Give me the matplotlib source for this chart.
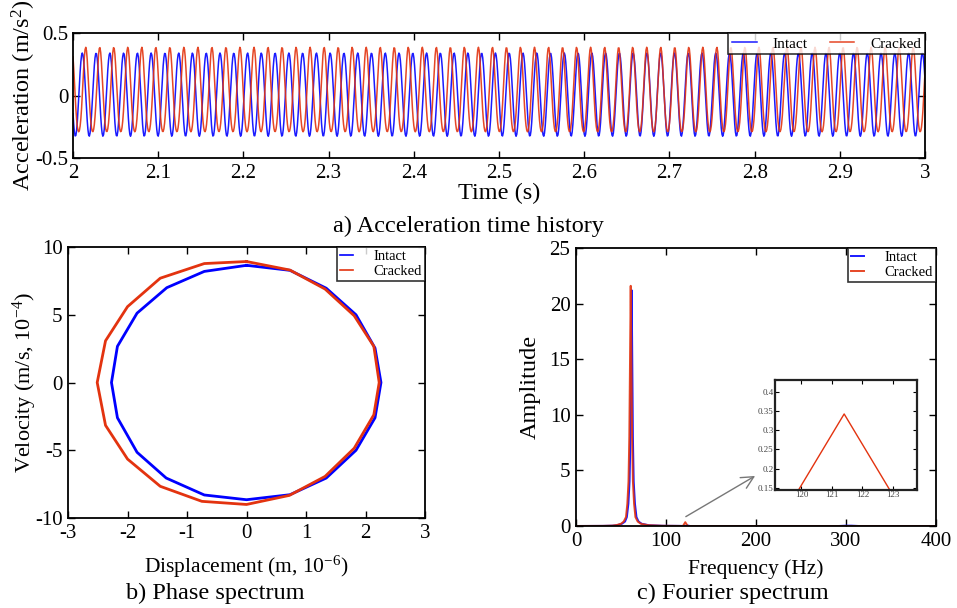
import numpy as np
import matplotlib
matplotlib.use("Agg")
import matplotlib.pyplot as plt
from matplotlib.ticker import FormatStrFormatter, MultipleLocator

plt.rcParams['font.family'] = ['Liberation Serif', 'DejaVu Serif']
plt.rcParams['mathtext.fontset'] = 'custom'
plt.rcParams['mathtext.rm'] = 'Liberation Serif'
plt.rcParams['mathtext.it'] = 'Liberation Serif:italic'
plt.rcParams['axes.unicode_minus'] = False

BLUE = '#1a1aff'
RED = '#e3330f'

# ---------------- data ----------------
# a) acceleration time history (sinusoid parameters read from picture)
t_start, t_end, fs = 2.0, 3.0, 1200.0
intact_freq = 61.87      # Hz
intact_amp = 0.333       # m/s^2
intact_offset = 0.007
intact_peak_t = 2.0109   # time of first peak
cracked_freq = 60.75
cracked_amp = 0.338
cracked_h2 = 0.03        # 2nd harmonic amplitude
cracked_offset = 0.018
cracked_peak_t = 2.0149

# b) phase spectrum vertices
intact_disp = [0, 0.73, 1.34, 1.84, 2.16, 2.26, 2.16, 1.84, 1.34, 0.73, 0,
               -0.71, -1.35, -1.84, -2.17, -2.27, -2.17, -1.84, -1.34, -0.71, 0]
intact_vel = [8.65, 8.28, 6.96, 5.0, 2.54, 0, -2.6, -5.0, -7.05, -8.28, -8.65,
              -8.3, -7.05, -5.15, -2.6, 0, 2.67, 5.12, 7.0, 8.2, 8.65]
cracked_disp = [0, 0.73, 1.32, 1.81, 2.14, 2.23, 2.14, 1.81, 1.32, 0.72, 0,
                -0.75, -1.45, -2.0, -2.37, -2.51, -2.37, -2.0, -1.45, -0.71, 0]
cracked_vel = [8.93, 8.3, 6.9, 4.93, 2.67, 0, -2.38, -4.85, -6.93, -8.33, -9.0,
               -8.77, -7.66, -5.65, -3.16, 0, 3.08, 5.6, 7.7, 8.78, 8.93]

# c) Fourier spectrum
intact_f = [0, 30, 41, 46, 51, 54.5, 56.5, 58.2, 59.5, 60.5, 61.2, 61.87, 62.5, 63.2,
            64.1, 65.5, 67.2, 69.5, 73, 81, 96, 115, 121.0, 123.7, 126.5,
            292, 300, 306, 314, 400]
intact_a = [0, 0.01, 0.03, 0.08, 0.2, 0.4, 0.8, 2.0, 4.0, 8.0, 15.0, 21.2, 15.0, 8.0,
            4.0, 2.0, 0.8, 0.4, 0.2, 0.07, 0.02, 0.01, 0.0, 0.05, 0.0,
            0.0, 0.03, 0.03, 0.0, 0]
cracked_f = [0, 30, 40, 45, 50, 53, 55.5, 57.0, 58.3, 59.2, 60.0, 60.75, 61.5, 62.3,
             63.2, 64.5, 66, 68.5, 72, 80, 95, 110, 118.8, 121.4, 124.0, 400]
cracked_a = [0, 0.01, 0.03, 0.08, 0.2, 0.4, 0.8, 2.0, 4.0, 8.0, 15.0, 21.6, 15.0, 8.0,
             4.0, 2.0, 0.8, 0.4, 0.2, 0.07, 0.02, 0.01, 0.0, 0.342, 0.0, 0]

# ---------------- figure ----------------
fig = plt.figure(figsize=(9.57, 6.08), dpi=100)

TICK = 15
LAB = 17.5


def style(ax):
    ax.tick_params(direction='in', top=True, right=True, labelsize=TICK,
                   length=5, width=1.0, pad=4)
    for s in ax.spines.values():
        s.set_linewidth(1.3)


# a) time history
ax1 = fig.add_axes([0.0763, 0.7401, 0.8903, 0.2056])
t = np.arange(t_start, t_end + 0.5 / fs, 1 / fs)
acc_i = intact_offset + intact_amp * np.cos(2 * np.pi * intact_freq * (t - intact_peak_t))
ph = 2 * np.pi * cracked_freq * (t - cracked_peak_t)
acc_c = cracked_offset + cracked_amp * np.cos(ph) + cracked_h2 * np.cos(2 * ph)
ax1.plot(t, acc_i, color=BLUE, lw=1.1, label='Intact')
ax1.plot(t, acc_c, color=RED, lw=1.1, label='Cracked', alpha=0.9)
ax1.set_xlim(2, 3)
ax1.set_ylim(-0.5, 0.5)
ax1.xaxis.set_major_locator(MultipleLocator(0.1))
ax1.set_yticks([-0.5, 0, 0.5])
ax1.xaxis.set_major_formatter(FormatStrFormatter('%g'))
ax1.yaxis.set_major_formatter(FormatStrFormatter('%g'))
style(ax1)
ax1.tick_params(axis='y', pad=3.5)
ax1.set_xlabel('Time (s)', fontsize=LAB, labelpad=0)
ax1.set_ylabel('Acceleration (m/s$^2$)', fontsize=LAB, labelpad=-2)
leg1 = ax1.legend(loc='upper right', ncol=2, fontsize=11, frameon=True, fancybox=False,
                  edgecolor='black', borderaxespad=0, handlelength=1.6,
                  columnspacing=1.45, handletextpad=1.05, borderpad=0.25)
leg1.get_frame().set_linewidth(1.2)
fig.text(0.49, 1 - 226 / 608, 'a) Acceleration time history', fontsize=LAB,
         ha='center', va='center')

# b) phase spectrum
ax2 = fig.add_axes([0.0711, 0.1480, 0.3730, 0.4457])
ax2.plot(intact_disp, intact_vel, color='#0000ff', lw=2.0, label='Intact')
ax2.plot(cracked_disp, cracked_vel, color=RED, lw=2.0, label='Cracked')
ax2.set_xlim(-3, 3)
ax2.set_ylim(-10, 10)
ax2.set_xticks([-3, -2, -1, 0, 1, 2, 3])
ax2.set_yticks([-10, -5, 0, 5, 10])
style(ax2)
ax2.set_xlabel('Displacement (m, 10$^{\\mathrm{-6}}$)', fontsize=15.5, labelpad=8)
ax2.set_ylabel('Velocity (m/s, 10$^{\\mathrm{-4}}$)', fontsize=16, labelpad=-3)
leg2 = ax2.legend(loc='upper right', fontsize=10.5, frameon=True, fancybox=False,
                  edgecolor='black', borderaxespad=0, handlelength=0.9,
                  handletextpad=1.4, borderpad=0.2, labelspacing=0.1)
leg2.get_frame().set_linewidth(1.2)
for ln in leg2.get_lines():
    ln.set_linewidth(1.2)
fig.text(0.225, 1 - 593 / 608, 'b) Phase spectrum', fontsize=LAB,
         ha='center', va='center')

# c) Fourier spectrum
ax3 = fig.add_axes([0.6019, 0.1349, 0.3762, 0.4572])
ax3.plot(intact_f, intact_a, color=BLUE, lw=1.4, label='Intact')
ax3.plot(cracked_f, cracked_a, color=RED, lw=1.4, label='Cracked', alpha=0.9)
ax3.set_xlim(0, 400)
ax3.set_ylim(0, 25)
ax3.set_xticks([0, 100, 200, 300, 400])
ax3.set_yticks([0, 5, 10, 15, 20, 25])
style(ax3)
ax3.set_xlabel('Frequency (Hz)', fontsize=15.5, labelpad=6)
ax3.set_ylabel('Amplitude', fontsize=LAB, labelpad=6)
leg3 = ax3.legend(loc='upper right', fontsize=10.5, frameon=True, fancybox=False,
                  edgecolor='black', borderaxespad=0, handlelength=0.9,
                  handletextpad=1.4, borderpad=0.2, labelspacing=0.1)
leg3.get_frame().set_linewidth(1.2)
fig.text(0.766, 1 - 593 / 608, 'c) Fourier spectrum', fontsize=LAB,
         ha='center', va='center')
ax3.annotate('', xy=(199, 4.5), xytext=(122, 0.84),
             arrowprops=dict(arrowstyle='->', color='#777777', lw=1.0,
                             mutation_scale=22, shrinkA=0, shrinkB=0))

# inset
axi = fig.add_axes([0.8098, 0.1941, 0.1484, 0.1809])
axi.plot(intact_f, intact_a, color=BLUE, lw=1.0)
axi.plot(cracked_f, cracked_a, color=RED, lw=1.0)
axi.set_xlim(119.13, 123.79)
axi.set_ylim(0.145, 0.43)
axi.set_xticks([120, 121, 122, 123])
axi.set_yticks([0.15, 0.2, 0.25, 0.3, 0.35, 0.4])
axi.xaxis.set_major_formatter(FormatStrFormatter('%g'))
axi.yaxis.set_major_formatter(FormatStrFormatter('%g'))
axi.tick_params(direction='in', top=True, right=True, labelsize=6.5, length=3,
                width=0.8, pad=1, labelcolor='#444444')
for s in axi.spines.values():
    s.set_linewidth(1.6)
    s.set_color('#222222')

fig.savefig('out.png', dpi=100)
